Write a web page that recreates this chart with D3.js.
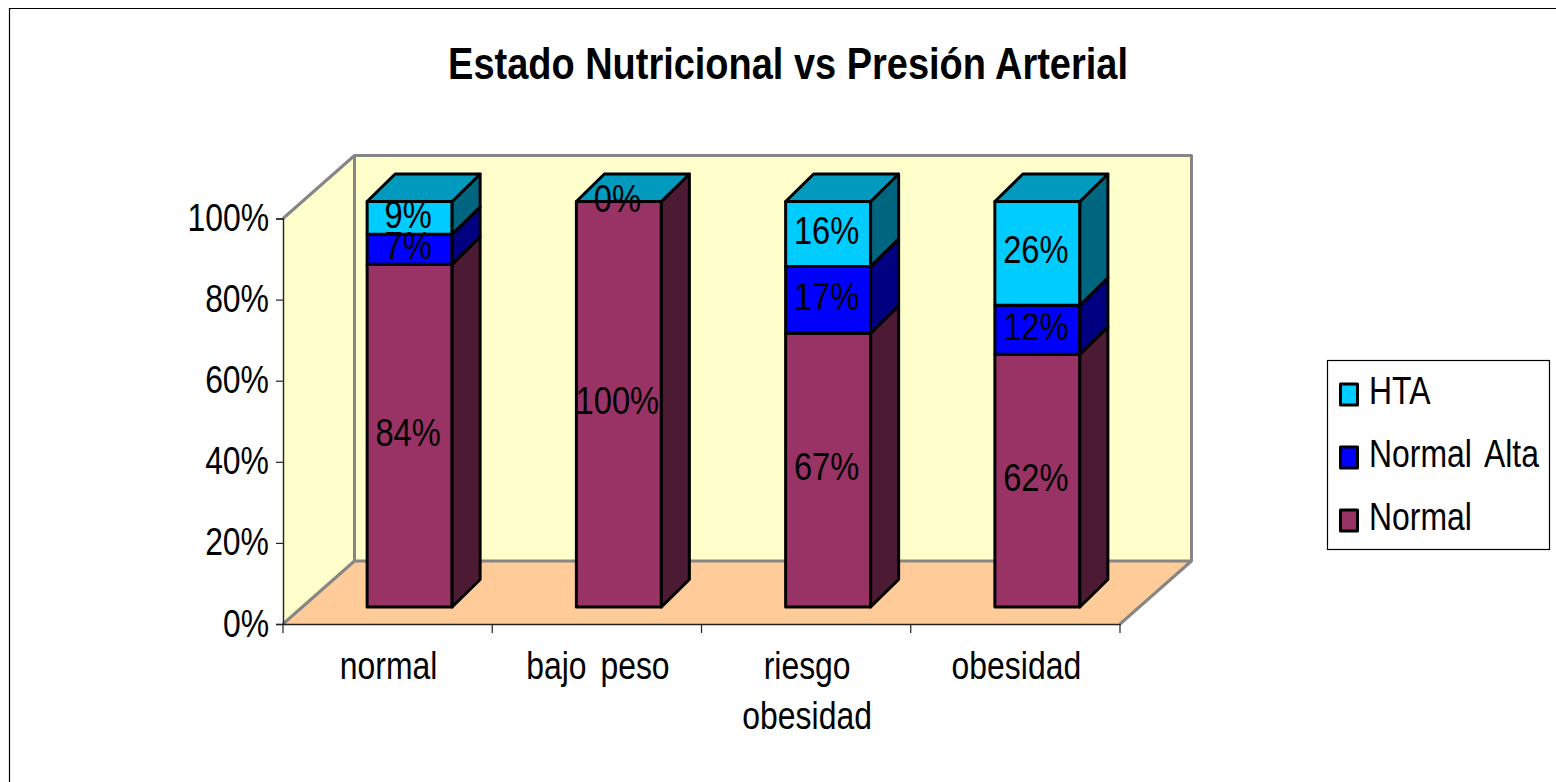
<!DOCTYPE html>
<html lang="es">
<head>
  <meta charset="UTF-8">
  <title>Estado Nutricional vs Presión Arterial</title>
  <style>
    html, body { margin: 0; padding: 0; background: #fff; }
    svg { display: block; font-family: "Liberation Sans", Arial, sans-serif; }
  </style>
</head>
<body>
  <svg id="svg" width="1556" height="782"></svg>
  <script src="https://cdn.jsdelivr.net/npm/d3@7"></script>
  <script>
    const title = 'Estado Nutricional vs Presión Arterial';
    const categories = ['normal', 'bajo peso', 'riesgo obesidad', 'obesidad'];
    const seriesNames = ['Normal', 'Normal Alta', 'HTA'];
    // heights, the printed labels are kept apart
    const normal = [84.5, 100, 67.5, 62.3];
    const normalAlta = [7.4, 0, 16.5, 12.1];
    const hta = [8.1, 0, 16, 25.6];
    const normalLabels = ['84%', '100%', '67%', '62%'];
    const normalAltaLabels = ['7%', null, '17%', '12%'];
    const htaLabels = ['9%', '0%', '16%', '26%'];
    const yTicks = [0, 20, 40, 60, 80, 100];

    const front = ['#993366', '#0000ff', '#00ccff'];
    const side = ['#4d1a33', '#000080', '#006680'];
    const topFace = '#009abf';

    const svg = d3.select('#svg');
    const plotLeft = 283, plotRight = 1120, plotBottom = 624, plotTop = 218.5;
    const depth = { x: 71.5, y: 63 };
    const barDepth = { x: 28, y: 27.5 };
    const barInset = { x: 22, y: 17 };
    const barWidth = 85;

    const xScale = d3.scaleBand().domain(categories).range([plotLeft, plotRight]);
    const yScale = d3.scaleLinear().domain([0, 100]).range([plotBottom, plotTop]);
    const poly = pts => pts.map(p => p.join(',')).join(' ');

    // text is narrower than the font's normal width
    function squeezed(sel, x, y, size, sx, anchor) {
      return sel.attr('transform', `translate(${x},${y}) scale(${sx},1)`)
        .attr('font-size', size)
        .attr('word-spacing', 6)
        .attr('text-anchor', anchor || 'middle')
        .attr('fill', '#000');
    }

    // Chart frame, runs off the right and bottom of the picture
    svg.append('path')
      .attr('d', 'M9.5,790V8.5H1566')
      .attr('fill', 'none')
      .attr('stroke', '#000')
      .attr('stroke-width', 1.2);

    squeezed(svg.append('text').text(title), 788, 79, 44, 0.863)
      .attr('font-weight', 'bold')
      .attr('word-spacing', 0);

    // Walls and floor
    const wallStyle = s => s.attr('stroke', '#868686').attr('stroke-width', 3).attr('stroke-linejoin', 'round');
    svg.append('polygon')
      .attr('points', poly([[plotLeft + depth.x, plotBottom - depth.y], [plotRight + depth.x, plotBottom - depth.y], [plotRight, plotBottom], [plotLeft, plotBottom]]))
      .attr('fill', '#ffcc99');
    svg.append('polygon')
      .attr('points', poly([[plotLeft, plotTop], [plotLeft + depth.x, plotTop - depth.y], [plotLeft + depth.x, plotBottom - depth.y], [plotLeft, plotBottom]]))
      .attr('fill', '#ffffcc');
    svg.append('rect')
      .attr('x', plotLeft + depth.x).attr('y', plotTop - depth.y)
      .attr('width', plotRight - plotLeft).attr('height', plotBottom - plotTop)
      .attr('fill', '#ffffcc');
    wallStyle(svg.append('path'))
      .attr('fill', 'none')
      .attr('d', `M${plotLeft},${plotTop}L${plotLeft + depth.x},${plotTop - depth.y}H${plotRight + depth.x}V${plotBottom - depth.y}L${plotRight},${plotBottom}`
        + `M${plotLeft},${plotBottom}L${plotLeft + depth.x},${plotBottom - depth.y}H${plotRight + depth.x}`
        + `M${plotLeft + depth.x},${plotTop - depth.y}V${plotBottom - depth.y}`);

    // Axes
    const yAxis = svg.append('g')
      .attr('transform', `translate(${plotLeft},0)`)
      .call(d3.axisLeft(yScale).tickValues(yTicks).tickSize(7).tickPadding(7).tickFormat(d => d + '%'));
    const xAxis = svg.append('g')
      .attr('transform', `translate(0,${plotBottom})`)
      .call(d3.axisBottom(xScale).tickValues(categories).tickSize(0).tickFormat(''));
    xAxis.selectAll('.tick').remove();
    xAxis.selectAll('.cut')
      .data(d3.range(categories.length + 1))
      .enter().append('line')
      .attr('x1', i => plotLeft + i * xScale.step())
      .attr('x2', i => plotLeft + i * xScale.step())
      .attr('y1', 0).attr('y2', 9)
      .attr('stroke', '#222')
      .attr('stroke-width', 1.2);
    svg.selectAll('.domain').attr('stroke', '#222').attr('stroke-width', 1.4);
    yAxis.selectAll('line').attr('stroke', '#222').attr('stroke-width', 1.2);
    yAxis.selectAll('text').each(function () {
      squeezed(d3.select(this).attr('x', null).attr('dy', null), -14, 12, 38, 0.84, 'end');
    });

    categories.forEach(c => {
      const cx = xScale(c) + xScale.bandwidth() / 2 + 1;
      const lines = c === 'riesgo obesidad' ? ['riesgo', 'obesidad'] : [c];
      lines.forEach((l, i) => {
        squeezed(svg.append('text').text(l), cx, 679 + i * 50, 38, 0.84);
      });
    });

    // Stacked bars
    const stack = d3.stack().keys([0, 1, 2]).value((d, k) => d[k]);
    const rows = categories.map((c, i) => [normal[i], normalAlta[i], hta[i]]);
    const stacked = stack(rows);
    const labels = [normalLabels, normalAltaLabels, htaLabels];
    const barY = v => yScale(v) - barInset.y;
    const barX = c => xScale(c) + barInset.x + (xScale.bandwidth() - barWidth) / 2;
    const blackEdge = s => s.attr('stroke', '#000').attr('stroke-width', 3).attr('stroke-linejoin', 'round');

    stacked.forEach((layer, k) => {
      layer.forEach((seg, i) => {
        const c = categories[i];
        if (seg[1] === seg[0]) return;
        const x0 = barX(c), x1 = x0 + barWidth;
        const y0 = barY(seg[0]), y1 = barY(seg[1]);
        blackEdge(svg.append('rect'))
          .attr('x', x0).attr('y', y1)
          .attr('width', barWidth).attr('height', y0 - y1)
          .attr('fill', front[k]);
        blackEdge(svg.append('polygon'))
          .attr('points', poly([[x1, y0], [x1 + barDepth.x, y0 - barDepth.y], [x1 + barDepth.x, y1 - barDepth.y], [x1, y1]]))
          .attr('fill', side[k]);
      });
    });

    // Top lid of each column
    categories.forEach(c => {
      const x0 = barX(c), x1 = x0 + barWidth, y = barY(100);
      blackEdge(svg.append('polygon'))
        .attr('points', poly([[x0, y], [x0 + barDepth.x, y - barDepth.y], [x1 + barDepth.x, y - barDepth.y], [x1, y]]))
        .attr('fill', topFace);
    });

    // Data labels sit in the middle of each segment
    stacked.forEach((layer, k) => {
      layer.forEach((seg, i) => {
        const text = labels[k][i];
        if (!text) return;
        const c = categories[i];
        const cx = barX(c) + barWidth / 2 - 1.5;
        const cy = (barY(seg[0]) + barY(seg[1])) / 2;
        squeezed(svg.append('text').text(text), cx, cy + 10, 38, 0.86);
      });
    });

    // Legend
    const legend = svg.append('g');
    legend.append('rect')
      .attr('x', 1327.5).attr('y', 360.5)
      .attr('width', 222).attr('height', 189)
      .attr('fill', '#fff').attr('stroke', '#000').attr('stroke-width', 1.2);
    const legendY = d3.scalePoint().domain(['HTA', 'Normal Alta', 'Normal']).range([393, 519]);
    seriesNames.forEach((name, k) => {
      const y = legendY(name);
      blackEdge(legend.append('rect'))
        .attr('x', 1340.5).attr('y', y - 9)
        .attr('width', 17).attr('height', 21)
        .attr('fill', front[k]);
      squeezed(legend.append('text').text(name), 1369, y + 10.5, 38, 0.84, 'start');
    });
  </script>
</body>
</html>
